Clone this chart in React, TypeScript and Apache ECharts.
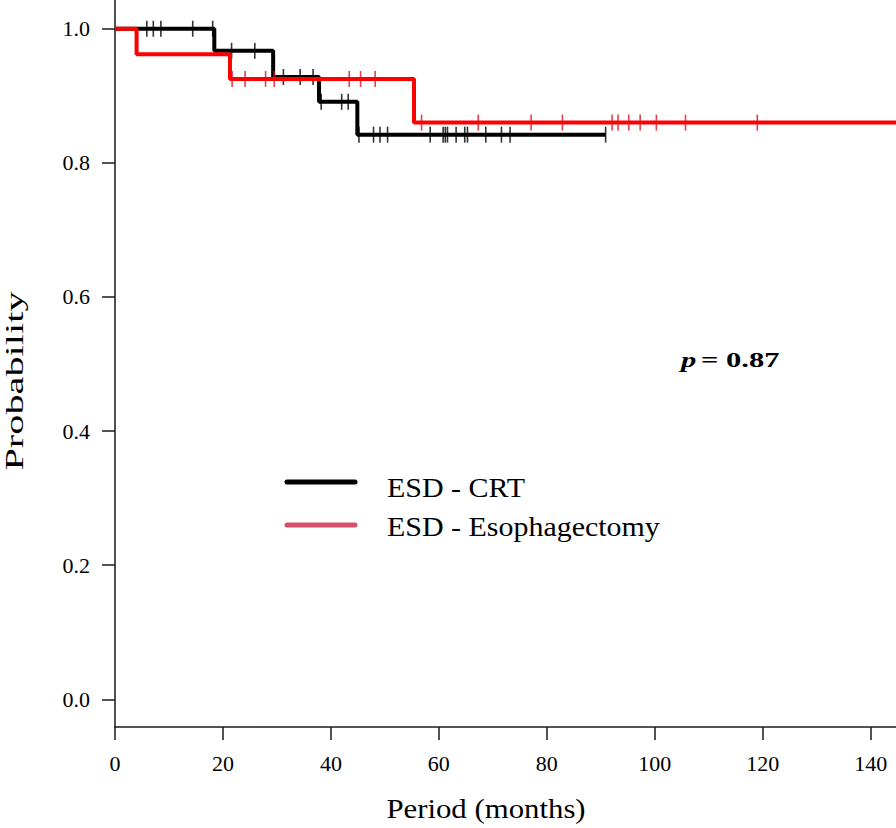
import React, { useEffect, useRef } from "react";
import * as echarts from "echarts";

// Kaplan–Meier step data (event times in months, survival after each event)
const crtEventTimes = [0, 18.4, 29.3, 37.8, 44.9];
const crtSurvival = [1.0, 0.967, 0.928, 0.891, 0.842];
const crtLastTime = 90.9;
const crtCensored = [
  5.9, 7.1, 8.5, 14.4, 18.1, 21.6, 25.9, 31.2, 34.3, 36.7, 38.2, 42.0, 43.2,
  45.2, 47.9, 49.1, 50.5, 58.4, 60.8, 61.2, 61.6, 63.2, 64.8, 65.3, 68.7, 71.6,
  73.2, 90.9,
];

const esoEventTimes = [0, 4.0, 21.3, 55.4];
const esoSurvival = [1.0, 0.962, 0.925, 0.86];
const esoLastTime = 144.7;
const esoCensored = [
  21.7, 24.1, 27.9, 29.5, 43.4, 45.5, 48.2, 56.8, 67.3, 77.1, 82.9, 92.1, 93.2,
  95.2, 97.3, 100.3, 105.7, 119.0,
];

const xTicks = [0, 20, 40, 60, 80, 100, 120, 140];
const yTicks = [0, 0.2, 0.4, 0.6, 0.8, 1.0];

const seriesNames = ["ESD - CRT", "ESD - Esophagectomy"];
const pValueText = "0.87";
const xTitle = "Period (months)";
const yTitle = "Probability";

const FONT = "Liberation Serif";

function survAt(times: number[], surv: number[], t: number) {
  let s = surv[0];
  for (let i = 0; i < times.length; i++) if (times[i] <= t) s = surv[i];
  return s;
}

function stepData(times: number[], surv: number[], last: number) {
  const d = times.map((t, i) => [t, surv[i]]);
  d.push([last, surv[surv.length - 1]]);
  return d;
}

export default function App() {
  const ref = useRef<HTMLDivElement>(null);
  useEffect(() => {
    if (!ref.current) return;
    const chart = echarts.init(ref.current, null, { renderer: "svg" });
    const axisColor = "#1a1a1a";
    const option: any = {
      animation: false,
      backgroundColor: "#ffffff",
      grid: { left: 115, right: 0, top: 0, bottom: 101, containLabel: false },
      xAxis: {
        type: "value",
        min: 0,
        max: 144.7,
        axisLine: { show: true, onZero: false, lineStyle: { color: axisColor, width: 1.5 } },
        axisTick: {
          show: true,
          length: 13,
          customValues: xTicks,
          lineStyle: { color: axisColor, width: 1.5 },
        },
        axisLabel: {
          customValues: xTicks,
          margin: 25,
          fontFamily: FONT,
          fontSize: 22,
          color: "#000",
        },
        splitLine: { show: false },
      },
      yAxis: {
        type: "value",
        min: -0.0413,
        max: 1.0428,
        axisLine: { show: true, onZero: false, lineStyle: { color: axisColor, width: 1.5 } },
        axisTick: {
          show: true,
          length: 13,
          customValues: yTicks,
          lineStyle: { color: axisColor, width: 1.5 },
        },
        axisLabel: {
          customValues: yTicks,
          margin: 25,
          fontFamily: FONT,
          fontSize: 22,
          color: "#000",
          formatter: (v: number) => v.toFixed(1),
        },
        splitLine: { show: false },
      },
      series: [
        {
          name: seriesNames[0],
          type: "line",
          step: "end",
          showSymbol: false,
          silent: true,
          lineStyle: { color: "#000000", width: 4 },
          data: stepData(crtEventTimes, crtSurvival, crtLastTime),
          z: 2,
        },
        {
          name: seriesNames[0] + " censored",
          type: "scatter",
          symbol: "rect",
          symbolSize: [1.6, 16],
          silent: true,
          itemStyle: { color: "#000000" },
          data: crtCensored.map((t) => [t, survAt(crtEventTimes, crtSurvival, t)]),
          z: 3,
        },
        {
          name: seriesNames[1],
          type: "line",
          step: "end",
          showSymbol: false,
          silent: true,
          lineStyle: { color: "#ff0000", width: 4 },
          data: stepData(esoEventTimes, esoSurvival, esoLastTime),
          z: 4,
        },
        {
          name: seriesNames[1] + " censored",
          type: "scatter",
          symbol: "rect",
          symbolSize: [1.6, 16],
          silent: true,
          itemStyle: { color: "#e0101a" },
          data: esoCensored.map((t) => [t, survAt(esoEventTimes, esoSurvival, t)]),
          z: 5,
        },
      ],
      graphic: [
        {
          type: "text",
          x: 14,
          y: 381,
          rotation: Math.PI / 2,
          scaleX: 1.55,
          style: {
            text: yTitle,
            fontFamily: FONT,
            fontSize: 26,
            fill: "#000",
            align: "center",
            verticalAlign: "middle",
          },
        },
        {
          type: "text",
          x: 486,
          y: 808,
          scaleX: 1.1,
          style: {
            text: xTitle,
            fontFamily: FONT,
            fontSize: 28,
            fill: "#000",
            align: "center",
            verticalAlign: "middle",
          },
        },
        {
          type: "text",
          x: 681,
          y: 360,
          scaleX: 1.39,
          style: {
            text: "{i|p} {b|= " + pValueText + "}",
            fill: "#000",
            align: "left",
            verticalAlign: "middle",
            rich: {
              i: { fontFamily: FONT, fontSize: 22, fontStyle: "italic", fontWeight: "bold", fill: "#000" },
              b: { fontFamily: FONT, fontSize: 22, fontWeight: "bold", fill: "#000" },
            },
          },
        },
        {
          type: "line",
          shape: { x1: 287, y1: 482, x2: 355, y2: 482 },
          style: { stroke: "#000000", lineWidth: 5, lineCap: "round" },
        },
        {
          type: "line",
          shape: { x1: 287, y1: 525, x2: 355, y2: 525 },
          style: { stroke: "#d4506a", lineWidth: 5, lineCap: "round" },
        },
        {
          type: "text",
          x: 387,
          y: 487,
          scaleX: 1.07,
          style: {
            text: seriesNames[0],
            fontFamily: FONT,
            fontSize: 28,
            fill: "#000",
            align: "left",
            verticalAlign: "middle",
          },
        },
        {
          type: "text",
          x: 387,
          y: 526,
          scaleX: 1.07,
          style: {
            text: seriesNames[1],
            fontFamily: FONT,
            fontSize: 28,
            fill: "#000",
            align: "left",
            verticalAlign: "middle",
          },
        },
      ],
    };
    chart.setOption(option);
    return () => chart.dispose();
  }, []);
  return (
    <div
      ref={ref}
      style={{ position: "fixed", left: 0, top: 0, width: 896, height: 828, background: "#fff" }}
    />
  );
}
